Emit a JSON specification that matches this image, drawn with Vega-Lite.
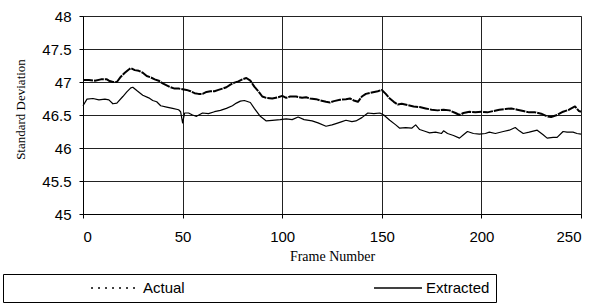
{
  "$schema": "https://vega.github.io/schema/vega-lite/v6.json",
  "width": 498,
  "height": 198,
  "autosize": {"type": "none"},
  "padding": {"left": 83, "top": 16, "right": 19, "bottom": 92},
  "background": "white",
  "config": {
    "view": {"stroke": "#555", "strokeDash": [2, 1], "strokeWidth": 1},
    "axis": {
      "labelFont": "Liberation Sans", "labelFontSize": 15, "labelColor": "#000",
      "titleFont": "Liberation Serif", "titleFontWeight": "normal", "titleColor": "#000",
      "domainColor": "#000", "tickColor": "#000", "tickSize": 4,
      "gridColor": "#222", "gridOpacity": 1, "gridWidth": 1
    }
  },
  "data": {"values": [
    {"f":0,"s":"Actual","v":47.03},{"f":3,"s":"Actual","v":47.03},{"f":6,"s":"Actual","v":47.02},{"f":9,"s":"Actual","v":47.04},{"f":12,"s":"Actual","v":47.04},{"f":13,"s":"Actual","v":47.02},{"f":15,"s":"Actual","v":47.0},{"f":17,"s":"Actual","v":47.0},{"f":19,"s":"Actual","v":47.08},{"f":21,"s":"Actual","v":47.14},{"f":23,"s":"Actual","v":47.19},{"f":24,"s":"Actual","v":47.21},{"f":26,"s":"Actual","v":47.18},{"f":28,"s":"Actual","v":47.17},{"f":30,"s":"Actual","v":47.14},{"f":32,"s":"Actual","v":47.09},{"f":34,"s":"Actual","v":47.07},{"f":36,"s":"Actual","v":47.04},{"f":38,"s":"Actual","v":47.02},{"f":40,"s":"Actual","v":46.98},{"f":42,"s":"Actual","v":46.95},{"f":44,"s":"Actual","v":46.92},{"f":46,"s":"Actual","v":46.9},{"f":48,"s":"Actual","v":46.9},{"f":50,"s":"Actual","v":46.89},{"f":52,"s":"Actual","v":46.88},{"f":54,"s":"Actual","v":46.86},{"f":56,"s":"Actual","v":46.83},{"f":58,"s":"Actual","v":46.82},{"f":60,"s":"Actual","v":46.82},{"f":62,"s":"Actual","v":46.85},{"f":64,"s":"Actual","v":46.86},{"f":66,"s":"Actual","v":46.86},{"f":68,"s":"Actual","v":46.88},{"f":70,"s":"Actual","v":46.9},{"f":72,"s":"Actual","v":46.92},{"f":74,"s":"Actual","v":46.96},{"f":76,"s":"Actual","v":46.99},{"f":78,"s":"Actual","v":47.01},{"f":80,"s":"Actual","v":47.04},{"f":82,"s":"Actual","v":47.06},{"f":84,"s":"Actual","v":47.02},{"f":86,"s":"Actual","v":46.93},{"f":88,"s":"Actual","v":46.86},{"f":90,"s":"Actual","v":46.78},{"f":92,"s":"Actual","v":46.76},{"f":95,"s":"Actual","v":46.75},{"f":98,"s":"Actual","v":46.77},{"f":100,"s":"Actual","v":46.79},{"f":102,"s":"Actual","v":46.76},{"f":104,"s":"Actual","v":46.78},{"f":107,"s":"Actual","v":46.78},{"f":110,"s":"Actual","v":46.76},{"f":112,"s":"Actual","v":46.77},{"f":114,"s":"Actual","v":46.75},{"f":117,"s":"Actual","v":46.74},{"f":119,"s":"Actual","v":46.72},{"f":122,"s":"Actual","v":46.7},{"f":124,"s":"Actual","v":46.69},{"f":126,"s":"Actual","v":46.71},{"f":129,"s":"Actual","v":46.73},{"f":132,"s":"Actual","v":46.74},{"f":134,"s":"Actual","v":46.75},{"f":136,"s":"Actual","v":46.72},{"f":138,"s":"Actual","v":46.7},{"f":140,"s":"Actual","v":46.78},{"f":142,"s":"Actual","v":46.82},{"f":145,"s":"Actual","v":46.84},{"f":148,"s":"Actual","v":46.86},{"f":150,"s":"Actual","v":46.88},{"f":152,"s":"Actual","v":46.82},{"f":154,"s":"Actual","v":46.75},{"f":156,"s":"Actual","v":46.7},{"f":158,"s":"Actual","v":46.66},{"f":160,"s":"Actual","v":46.67},{"f":163,"s":"Actual","v":46.65},{"f":166,"s":"Actual","v":46.63},{"f":169,"s":"Actual","v":46.62},{"f":172,"s":"Actual","v":46.6},{"f":175,"s":"Actual","v":46.58},{"f":178,"s":"Actual","v":46.57},{"f":181,"s":"Actual","v":46.58},{"f":184,"s":"Actual","v":46.57},{"f":187,"s":"Actual","v":46.53},{"f":189,"s":"Actual","v":46.5},{"f":191,"s":"Actual","v":46.53},{"f":194,"s":"Actual","v":46.55},{"f":197,"s":"Actual","v":46.54},{"f":200,"s":"Actual","v":46.55},{"f":203,"s":"Actual","v":46.54},{"f":206,"s":"Actual","v":46.56},{"f":209,"s":"Actual","v":46.58},{"f":212,"s":"Actual","v":46.59},{"f":215,"s":"Actual","v":46.6},{"f":218,"s":"Actual","v":46.58},{"f":221,"s":"Actual","v":46.56},{"f":224,"s":"Actual","v":46.54},{"f":227,"s":"Actual","v":46.54},{"f":230,"s":"Actual","v":46.52},{"f":233,"s":"Actual","v":46.48},{"f":235,"s":"Actual","v":46.47},{"f":238,"s":"Actual","v":46.5},{"f":241,"s":"Actual","v":46.55},{"f":244,"s":"Actual","v":46.58},{"f":247,"s":"Actual","v":46.63},{"f":249,"s":"Actual","v":46.56},{"f":250,"s":"Actual","v":46.55},
    {"f":0,"s":"Extracted","v":46.64},{"f":2,"s":"Extracted","v":46.74},{"f":5,"s":"Extracted","v":46.75},{"f":8,"s":"Extracted","v":46.73},{"f":11,"s":"Extracted","v":46.74},{"f":13,"s":"Extracted","v":46.73},{"f":15,"s":"Extracted","v":46.67},{"f":17,"s":"Extracted","v":46.68},{"f":20,"s":"Extracted","v":46.78},{"f":22,"s":"Extracted","v":46.85},{"f":24,"s":"Extracted","v":46.91},{"f":25,"s":"Extracted","v":46.92},{"f":27,"s":"Extracted","v":46.87},{"f":30,"s":"Extracted","v":46.8},{"f":33,"s":"Extracted","v":46.76},{"f":35,"s":"Extracted","v":46.72},{"f":37,"s":"Extracted","v":46.7},{"f":39,"s":"Extracted","v":46.64},{"f":42,"s":"Extracted","v":46.62},{"f":45,"s":"Extracted","v":46.6},{"f":48,"s":"Extracted","v":46.58},{"f":49,"s":"Extracted","v":46.55},{"f":50,"s":"Extracted","v":46.38},{"f":51,"s":"Extracted","v":46.53},{"f":53,"s":"Extracted","v":46.53},{"f":55,"s":"Extracted","v":46.5},{"f":57,"s":"Extracted","v":46.48},{"f":60,"s":"Extracted","v":46.53},{"f":63,"s":"Extracted","v":46.52},{"f":66,"s":"Extracted","v":46.55},{"f":69,"s":"Extracted","v":46.57},{"f":72,"s":"Extracted","v":46.6},{"f":75,"s":"Extracted","v":46.64},{"f":77,"s":"Extracted","v":46.68},{"f":79,"s":"Extracted","v":46.71},{"f":81,"s":"Extracted","v":46.72},{"f":84,"s":"Extracted","v":46.69},{"f":86,"s":"Extracted","v":46.6},{"f":89,"s":"Extracted","v":46.48},{"f":92,"s":"Extracted","v":46.41},{"f":95,"s":"Extracted","v":46.42},{"f":99,"s":"Extracted","v":46.43},{"f":102,"s":"Extracted","v":46.44},{"f":105,"s":"Extracted","v":46.43},{"f":108,"s":"Extracted","v":46.47},{"f":111,"s":"Extracted","v":46.43},{"f":115,"s":"Extracted","v":46.41},{"f":118,"s":"Extracted","v":46.38},{"f":122,"s":"Extracted","v":46.33},{"f":125,"s":"Extracted","v":46.35},{"f":127,"s":"Extracted","v":46.37},{"f":130,"s":"Extracted","v":46.4},{"f":132,"s":"Extracted","v":46.42},{"f":135,"s":"Extracted","v":46.4},{"f":137,"s":"Extracted","v":46.41},{"f":140,"s":"Extracted","v":46.46},{"f":143,"s":"Extracted","v":46.53},{"f":146,"s":"Extracted","v":46.52},{"f":149,"s":"Extracted","v":46.53},{"f":151,"s":"Extracted","v":46.5},{"f":154,"s":"Extracted","v":46.42},{"f":157,"s":"Extracted","v":46.35},{"f":159,"s":"Extracted","v":46.3},{"f":162,"s":"Extracted","v":46.31},{"f":165,"s":"Extracted","v":46.3},{"f":167,"s":"Extracted","v":46.35},{"f":169,"s":"Extracted","v":46.28},{"f":172,"s":"Extracted","v":46.25},{"f":174,"s":"Extracted","v":46.23},{"f":177,"s":"Extracted","v":46.24},{"f":180,"s":"Extracted","v":46.22},{"f":181,"s":"Extracted","v":46.26},{"f":183,"s":"Extracted","v":46.22},{"f":186,"s":"Extracted","v":46.19},{"f":189,"s":"Extracted","v":46.15},{"f":191,"s":"Extracted","v":46.2},{"f":193,"s":"Extracted","v":46.25},{"f":196,"s":"Extracted","v":46.22},{"f":199,"s":"Extracted","v":46.21},{"f":202,"s":"Extracted","v":46.22},{"f":204,"s":"Extracted","v":46.24},{"f":207,"s":"Extracted","v":46.22},{"f":211,"s":"Extracted","v":46.25},{"f":214,"s":"Extracted","v":46.27},{"f":217,"s":"Extracted","v":46.31},{"f":219,"s":"Extracted","v":46.26},{"f":221,"s":"Extracted","v":46.22},{"f":224,"s":"Extracted","v":46.24},{"f":228,"s":"Extracted","v":46.27},{"f":231,"s":"Extracted","v":46.2},{"f":233,"s":"Extracted","v":46.15},{"f":236,"s":"Extracted","v":46.16},{"f":238,"s":"Extracted","v":46.16},{"f":241,"s":"Extracted","v":46.25},{"f":243,"s":"Extracted","v":46.24},{"f":246,"s":"Extracted","v":46.24},{"f":248,"s":"Extracted","v":46.22},{"f":250,"s":"Extracted","v":46.21}
  ]},
  "encoding": {
    "x": {
      "field": "f", "type": "quantitative",
      "scale": {"domain": [0, 250], "nice": false, "zero": false},
      "axis": {"values": [0, 50, 100, 150, 200, 250], "title": "Frame Number", "titleFontSize": 14, "labelPadding": 11, "titlePadding": 5, "grid": true}
    },
    "y": {
      "field": "v", "type": "quantitative",
      "scale": {"domain": [45, 48], "nice": false, "zero": false},
      "axis": {"values": [45, 45.5, 46, 46.5, 47, 47.5, 48], "format": "~g", "title": "Standard Deviation", "titleFontSize": 13, "labelPadding": 8, "titlePadding": 14, "titleY": 93, "grid": true}
    }
  },
  "layer": [
    {
      "transform": [{"filter": "datum.s == 'Actual'"}],
      "mark": {"type": "line", "color": "#000", "strokeWidth": 2, "strokeDash": [10, 1], "strokeJoin": "round"}
    },
    {
      "transform": [{"filter": "datum.s == 'Extracted'"}],
      "mark": {"type": "line", "color": "#000", "strokeWidth": 1.2, "strokeJoin": "round"}
    },
    {
      "transform": [{"filter": "false"}],
      "mark": {"type": "line", "color": "#000", "strokeWidth": 1.5},
      "encoding": {
        "strokeDash": {
          "field": "s", "type": "nominal",
          "scale": {"domain": ["Actual", "Extracted"], "range": [[2, 5], [1, 0]]},
          "legend": {
            "orient": "none", "legendX": -80, "legendY": 258, "direction": "horizontal",
            "title": "\u00a0", "titleOrient": "left", "titlePadding": 81, "titleFontSize": 15,
            "strokeColor": "#000", "padding": 6, "fillColor": "white",
            "symbolType": "stroke", "symbolSize": 2300, "symbolStrokeWidth": 1.5, "symbolStrokeColor": "#000",
            "clipHeight": 16, "columnPadding": 188,
            "labelFont": "Liberation Sans", "labelFontSize": 15, "labelColor": "#000", "labelOffset": 3
          }
        }
      }
    }
  ]
}
